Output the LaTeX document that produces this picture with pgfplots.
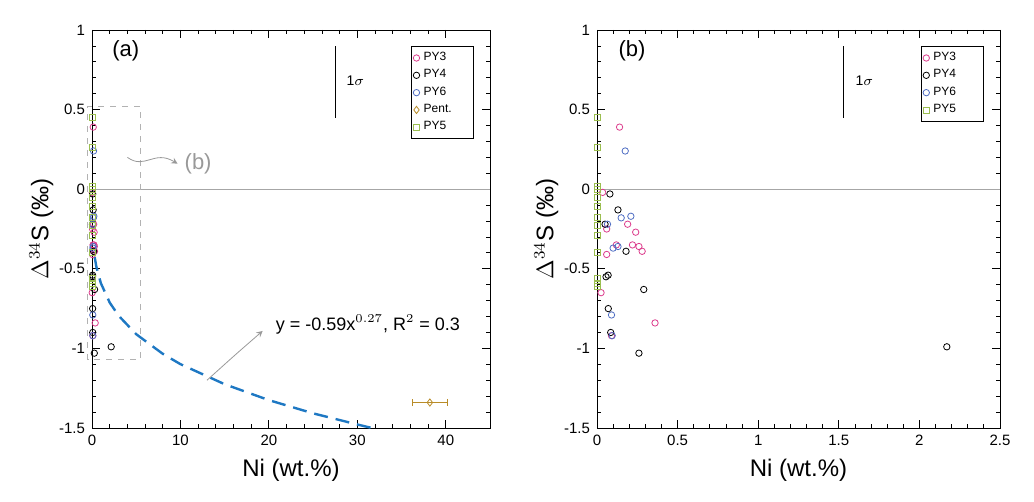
\documentclass[border=0pt]{standalone}
\usepackage{pgfplots}
\pgfplotsset{compat=1.18}
\usepackage{pgfplotstable}
\usepackage{fontspec}
\setmainfont{Liberation Sans}
\definecolor{cpink}{RGB}{220,60,140}
\definecolor{cblue}{RGB}{80,110,195}
\definecolor{cgold}{RGB}{185,140,40}
\definecolor{cgreen}{RGB}{155,190,80}
\definecolor{cfit}{RGB}{30,120,195}
\pgfplotstableread{
x y
0.14 0.39
0.035 -0.02
0.19 -0.22
0.24 -0.27
0.06 -0.25
0.12 -0.35
0.22 -0.35
0.26 -0.36
0.28 -0.39
0.06 -0.41
0.025 -0.65
0.36 -0.84
0.09 -0.92
}\pythree
\pgfplotstableread{
x y
0.08 -0.03
0.13 -0.13
0.05 -0.22
0.18 -0.39
0.056 -0.55
0.069 -0.54
0.29 -0.63
0.07 -0.75
0.085 -0.90
0.26 -1.03
2.17 -0.99
}\pyfour
\pgfplotstableread{
x y
0.175 0.24
0.065 -0.22
0.15 -0.18
0.21 -0.17
0.10 -0.37
0.13 -0.36
0.09 -0.79
0.094 -0.92
}\pysix
\pgfplotstableread{
x y
0 0.45
0 0.26
0 0.02
0 0.0
0 -0.05
0 -0.11
0 -0.18
0 -0.23
0 -0.29
0 -0.40
0 -0.56
0 -0.59
0 -0.61
}\pyfive
\pgfplotsset{
  common/.style={
    scale only axis, width=201.5pt, height=199pt,
    ymin=-1.5, ymax=1, ytick={-1.5,-1,-0.5,0,0.5,1},
    yticklabels={-1.5,-1,-0.5,0,0.5,1},
    minor y tick num=4,
    tick align=inside, tick style={black, thin},
    major tick length=4pt, minor tick length=2pt,
    axis line style={black, thin},
    tick label style={font=\fontsize{7.5}{8}\selectfont},
    /pgf/number format/assume math mode=true,
    label style={font=\fontsize{12}{13}\selectfont},
    xlabel={Ni (wt.\%)},
    ylabel={$\Delta^{34}$S (\char"2030)},
    ylabel style={yshift=-4pt},
    legend cell align=left,
    legend style={font=\fontsize{6}{7}\selectfont, draw=black, thin, inner sep=1pt, row sep=-1pt},
    clip=false,
  },
  mk/.style={only marks, mark=o, mark size=1.6pt, mark options={#1, thin}, color=#1},
}
\begin{document}
\begin{tikzpicture}
\path (0,0) rectangle (517pt,251pt);
\begin{axis}[common, at={(46pt,37pt)}, anchor=south west, width=199pt,
  xmin=0, xmax=45, xtick={0,10,20,30,40}, minor x tick num=4,
  legend style={at={(0.96,0.96)}, anchor=north east, text width=22pt}]
\addplot[mk=cpink] table {\pythree};
\addplot[mk=black] table {\pyfour};
\addplot[mk=cblue] table {\pysix};
\addplot[only marks, mark=diamond, mark size=1.8pt, color=cgold, thin,
  error bars/.cd, x dir=both, x explicit] coordinates {(38.2,-1.34) +- (2,0)};
\addplot[only marks, mark=square, mark size=1.5pt, color=cgreen, thin] table {\pyfive};
\legend{PY3,PY4,PY6,Pent.,PY5}
\addplot[cfit, thick, dashed, dash pattern=on 7pt off 4pt, line width=1.2pt] coordinates {
(0.3,-0.426)(0.5,-0.489)(1,-0.59)(2,-0.712)(3,-0.794)(5,-0.911)(8,-1.034)(10,-1.099)(15,-1.225)(20,-1.325)(25,-1.408)(30,-1.478)(31.5,-1.498)};
\draw[gray!70] (axis cs:0,0) -- (axis cs:45,0);
\draw[gray!60, dashed, thin] (axis cs:-0.5,-1.07) rectangle (axis cs:5.5,0.52);
\draw[black] (axis cs:27.5,0.45) -- (axis cs:27.5,0.9);
\node[anchor=west, font=\fontsize{7}{8}\selectfont] at (axis cs:28,0.68) {1$\sigma$};
\node[anchor=north west, font=\fontsize{11}{12}\selectfont] at (axis cs:1.5,0.98) {(a)};
\node[gray!80, font=\fontsize{11}{12}\selectfont] (bb) at (axis cs:12,0.16) {(b)};
\draw[gray!80, -stealth] (axis cs:4,0.2) .. controls (axis cs:6,0.12) and (axis cs:7,0.25) .. (bb.west);
\node[anchor=west, font=\fontsize{9}{10}\selectfont] (eq) at (axis cs:20,-0.85) {y = -0.59x$^{0.27}$, R$^2$ = 0.3};
\draw[gray!80, -stealth] (axis cs:13,-1.2) .. controls (axis cs:17,-1.0) and (axis cs:16,-1.05) .. (axis cs:19.3,-0.89);
\end{axis}
\begin{axis}[common, at={(298.5pt,37pt)}, anchor=south west,
  xmin=0, xmax=2.5, xtick={0,0.5,1,1.5,2,2.5}, xticklabels={0,0.5,1,1.5,2,2.5}, minor x tick num=4,
  legend style={at={(0.96,0.96)}, anchor=north east, text width=22pt}]
\addplot[mk=cpink] table {\pythree};
\addplot[mk=black] table {\pyfour};
\addplot[mk=cblue] table {\pysix};
\addplot[only marks, mark=square, mark size=1.5pt, color=cgreen, thin] table {\pyfive};
\legend{PY3,PY4,PY6,PY5}
\draw[gray!70] (axis cs:0,0) -- (axis cs:2.5,0);
\draw[black] (axis cs:1.53,0.45) -- (axis cs:1.53,0.9);
\node[anchor=west, font=\fontsize{7}{8}\selectfont] at (axis cs:1.56,0.68) {1$\sigma$};
\node[anchor=north west, font=\fontsize{11}{12}\selectfont] at (axis cs:0.09,0.98) {(b)};
\end{axis}
\end{tikzpicture}
\end{document}
